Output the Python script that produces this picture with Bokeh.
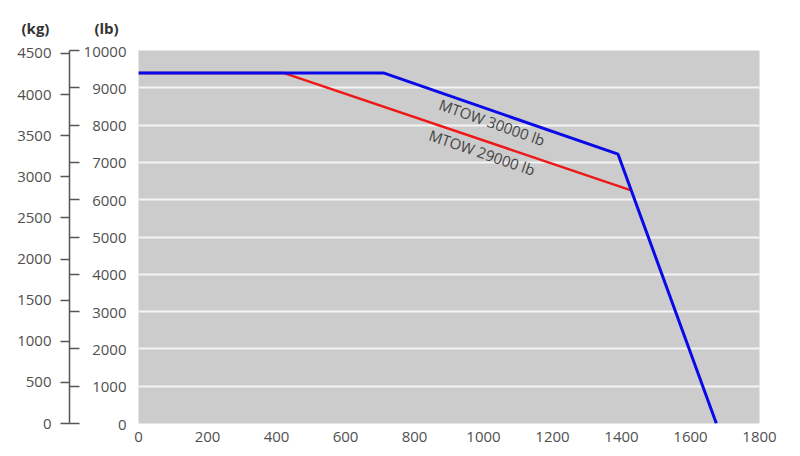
from bokeh.plotting import figure
from bokeh.models import Range1d, LinearAxis, FixedTicker, Title
from bokeh.embed import file_html
from bokeh.resources import INLINE
from bokeh.core.properties import value
import math

# Data (x: range, y: payload in lb)
blue_x = [0, 710, 1390, 1675]
blue_y = [9400, 9400, 7220, 0]
red_x = [0, 420, 1428]
red_y = [9400, 9400, 6250]
labels = ["MTOW 30000 lb", "MTOW 29000 lb"]
x_ticks = [0, 200, 400, 600, 800, 1000, 1200, 1400, 1600, 1800]
lb_ticks = [0, 1000, 2000, 3000, 4000, 5000, 6000, 7000, 8000, 9000, 10000]
kg_ticks = [0, 500, 1000, 1500, 2000, 2500, 3000, 3500, 4000, 4500]
unit_titles = ["(kg)", "(lb)"]
LB_PER_KG = 2.20462

FONT = "Open Sans"
TXT = "#505050"
AX = "#555555"
FS = "15px"

p = figure(width=792, height=448, output_backend="svg", toolbar_location=None,
           x_range=Range1d(0, 1800), y_range=Range1d(0, 10000),
           y_axis_location=None, min_border_left=138, min_border_right=33,
           min_border_top=50, min_border_bottom=25)
p.extra_y_ranges = {"kg": Range1d(0, 10000 / LB_PER_KG)}
p.background_fill_color = "#cccccc"
p.outline_line_color = None
p.xgrid.grid_line_color = None
p.ygrid.grid_line_color = "#f4f4f4"
p.ygrid.grid_line_width = 2
p.ygrid.ticker = FixedTicker(ticks=lb_ticks)

xa = p.xaxis[0]
xa.ticker = FixedTicker(ticks=x_ticks)
xa.axis_line_color = None
xa.major_tick_line_color = None
xa.minor_tick_line_color = None
xa.major_label_standoff = 2
xa.major_label_text_font = FONT
xa.major_label_text_font_size = FS
xa.major_label_text_color = TXT

# lb labels axis (innermost); leading spaces on widest label pad the panel
a = LinearAxis(ticker=FixedTicker(ticks=lb_ticks))
a.axis_line_color = None
a.major_tick_line_color = None
a.minor_tick_line_color = None
a.major_tick_out = 0
a.major_tick_in = 0
a.major_label_standoff = 12
a.major_label_text_font = FONT
a.major_label_text_font_size = FS
a.major_label_text_color = TXT
a.major_label_overrides = {10000: "\u2002\u2009\u200a10000"}
p.add_layout(a, "left")

# kg axis: kg ticks out (major), lb ticks in (minor)
c = LinearAxis(y_range_name="kg",
               ticker=FixedTicker(ticks=kg_ticks,
                                  minor_ticks=[t / LB_PER_KG for t in lb_ticks]))
c.axis_line_color = AX
c.axis_line_width = 1.5
c.major_tick_line_color = AX
c.major_tick_line_width = 1.5
c.major_tick_out = 9
c.major_tick_in = 0
c.minor_tick_line_color = AX
c.minor_tick_line_width = 1.5
c.minor_tick_out = 0
c.minor_tick_in = 10
c.major_label_standoff = 9
c.major_label_text_font = FONT
c.major_label_text_font_size = FS
c.major_label_text_color = TXT
p.add_layout(c, "left")

p.line(red_x, red_y, line_color="#ee1818", line_width=2.5)
p.line(blue_x, blue_y, line_color="#0a0ae8", line_width=3)

p.text(x=[1025, 996], y=[8080, 7270], text=labels,
       angle=[-math.radians(19.5), -math.radians(19)],
       text_align="center", text_baseline="middle",
       text_font=value(FONT), text_font_size=FS, text_color="#444444")

p.add_layout(Title(text="\u2003\u2003\u2003".join(unit_titles), align="left",
                   offset=-117, standoff=25, text_font=FONT,
                   text_font_size=FS, text_font_style="bold",
                   text_color="#333333"), "above")

open("out.html", "w").write(file_html(p, INLINE))
